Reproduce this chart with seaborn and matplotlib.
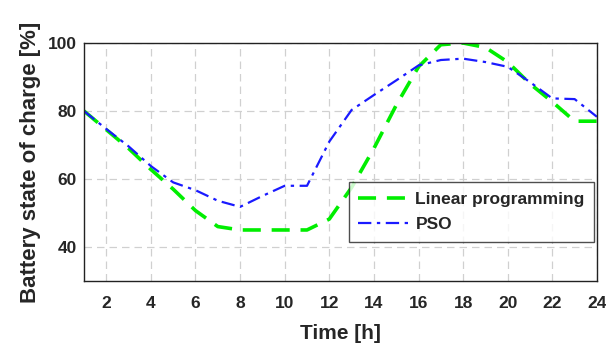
import numpy as np
import pandas as pd
import matplotlib
matplotlib.use("Agg")
import matplotlib.pyplot as plt
import seaborn as sns

hours = list(range(1, 25))
linear_prog = [80, 74.5, 69, 62.8, 57, 50.7, 46, 45, 45, 45, 45, 48.2,
               57.5, 69, 81.7, 93, 99.5, 100, 98.7, 94.4, 88, 82.7, 77, 77]
pso = [80, 74.7, 69.6, 63.8, 59, 56.7, 53.6, 51.8, 55, 58, 58, 71,
       80.3, 84.7, 89, 93.4, 95, 95.4, 94.4, 93, 88.5, 83.7, 83.5, 78.3]

df = pd.DataFrame({"hour": hours + hours,
                   "soc": linear_prog + pso,
                   "method": ["Linear programming"] * 24 + ["PSO"] * 24})

sns.set_style("white")
plt.rcParams['font.family'] = ['Liberation Sans', 'DejaVu Sans']

fig = plt.figure(figsize=(6.06, 3.63), dpi=100)
ax = fig.add_axes([0.1386, 0.226, 0.8464, 0.6555])

lp = df[df.method == "Linear programming"]
ps = df[df.method == "PSO"]
sns.lineplot(data=lp, x="hour", y="soc", ax=ax, color="#00ee00", lw=2.6,
             label="Linear programming")
ax.lines[-1].set_dashes([5, 3])
sns.lineplot(data=ps, x="hour", y="soc", ax=ax, color="#1a1aff", lw=1.6,
             label="PSO")
ax.lines[-1].set_dashes([6, 2.5, 1.5, 2.5])

ax.set_xlim(1, 24)
ax.set_ylim(30, 100)
ax.set_xticks(range(2, 25, 2))
ax.set_yticks([40, 60, 80, 100])
ax.grid(True, color="#d0d0d0", ls=(0, (6, 4)), lw=0.9)
ax.tick_params(direction="in", length=4, labelsize=12.5, width=0.8)
for t in ax.get_xticklabels() + ax.get_yticklabels():
    t.set_fontweight("bold")
ax.tick_params(axis="x", pad=11)
ax.tick_params(axis="y", pad=5)
for s in ax.spines.values():
    s.set_color("#222222")
    s.set_linewidth(1.0)

ax.set_xlabel("Time [h]", fontsize=15, fontweight="bold", labelpad=9)
ax.set_ylabel("Battery state of charge [%]", fontsize=16, fontweight="bold",
              labelpad=5)

leg = ax.legend(loc="lower right", bbox_to_anchor=(0.995, 0.165), fontsize=12.5,
                frameon=True, fancybox=False, handlelength=3.0,
                borderpad=0.55, labelspacing=0.6, handletextpad=0.3,
                borderaxespad=0.0)
leg.get_frame().set_edgecolor("#222222")
leg.get_frame().set_linewidth(1.0)
for t in leg.get_texts():
    t.set_fontweight("bold")

fig.savefig("out.png", dpi=100)
